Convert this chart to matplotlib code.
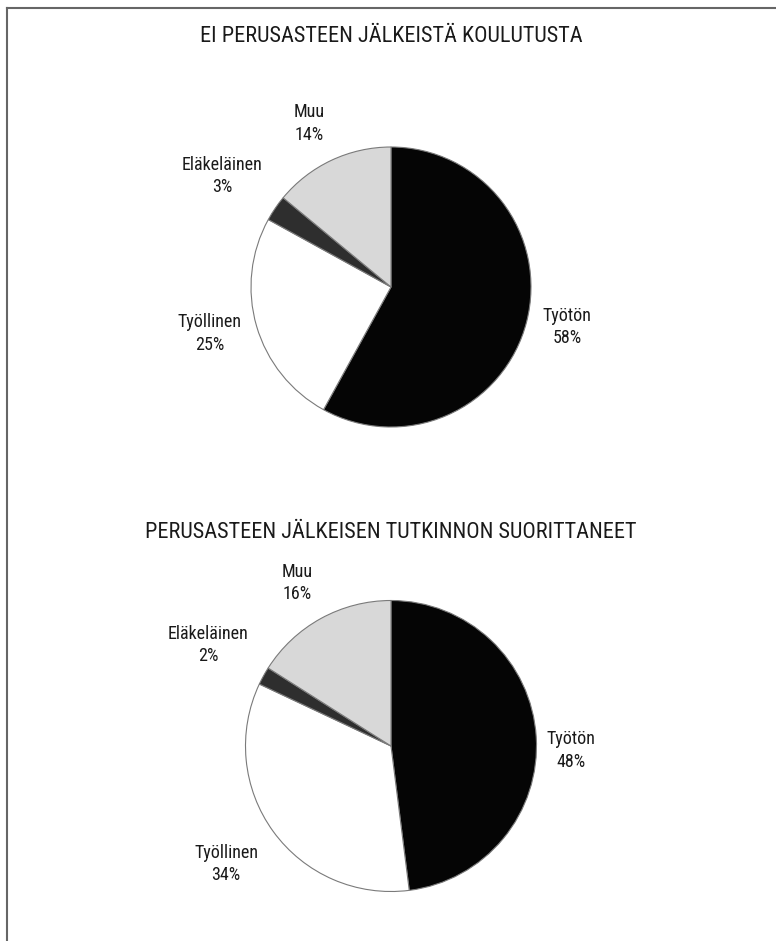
import matplotlib
matplotlib.use("Agg")
import matplotlib.pyplot as plt
from matplotlib.lines import Line2D

# condensed face like the original; first installed one wins
plt.rcParams['font.family'] = ['Roboto Condensed', 'Archivo Narrow', 'PT Sans Narrow',
                               'Liberation Sans Narrow', 'DejaVu Sans']

# --- Data ---
categories = ["Työtön", "Työllinen", "Eläkeläinen", "Muu"]
top_title = "EI PERUSASTEEN JÄLKEISTÄ KOULUTUSTA"
top_values = [58, 25, 3, 14]
bottom_title = "PERUSASTEEN JÄLKEISEN TUTKINNON SUORITTANEET"
bottom_values = [48, 34, 2, 16]

colors = ["#050505", "#ffffff", "#2e2e2e", "#d8d8d8"]
text_color = "#1a1a1a"

W, H = 776, 941
fig = plt.figure(figsize=(W / 100, H / 100), dpi=100)


def draw_pie(values, title, cx, cy, r, band_top, band_bot, title_y, label_xy):
    # axes spanning full width; 1 data unit == r pixels in both directions
    ax = fig.add_axes([0, 1 - band_bot / H, 1, (band_bot - band_top) / H])
    labels = [f"{c}\n{v}%" for c, v in zip(categories, values)]
    wedges, texts = ax.pie(values, colors=colors, startangle=90, counterclock=False,
                           labels=labels, labeldistance=1.4,
                           wedgeprops=dict(edgecolor="#7a7a7a", linewidth=0.8),
                           textprops=dict(fontsize=13, linespacing=1.35, color=text_color))
    for t, xy in zip(texts, label_xy):
        t.set_position(xy)
        t.set_horizontalalignment("center")
        t.set_verticalalignment("center")
    ax.set_xlim(-cx / r, (W - cx) / r)
    ax.set_ylim(-(band_bot - cy) / r, (cy - band_top) / r)
    ax.set_aspect("auto")
    ax.axis("off")
    fig.text(cx / W, 1 - title_y / H, title, ha="center", va="center",
             fontsize=16, color=text_color)


draw_pie(top_values, top_title, 391, 287, 140, 55, 500, 37,
         [(1.257, -0.286), (-1.293, -0.329), (-1.207, 0.793), (-0.586, 1.171)])
draw_pie(bottom_values, bottom_title, 391, 746, 145.5, 555, 941, 532,
         [(1.24, -0.03), (-1.134, -0.811), (-1.258, 0.694), (-0.646, 1.120)])

# outer frame: left and top edges only
frame = dict(color="#666666", linewidth=1.5)
fig.add_artist(Line2D([6.5 / W, 6.5 / W], [0, 1 - 7.5 / H], transform=fig.transFigure, **frame))
fig.add_artist(Line2D([6.5 / W, 1], [1 - 7.5 / H, 1 - 7.5 / H], transform=fig.transFigure, **frame))

fig.savefig("out.png", dpi=100)
